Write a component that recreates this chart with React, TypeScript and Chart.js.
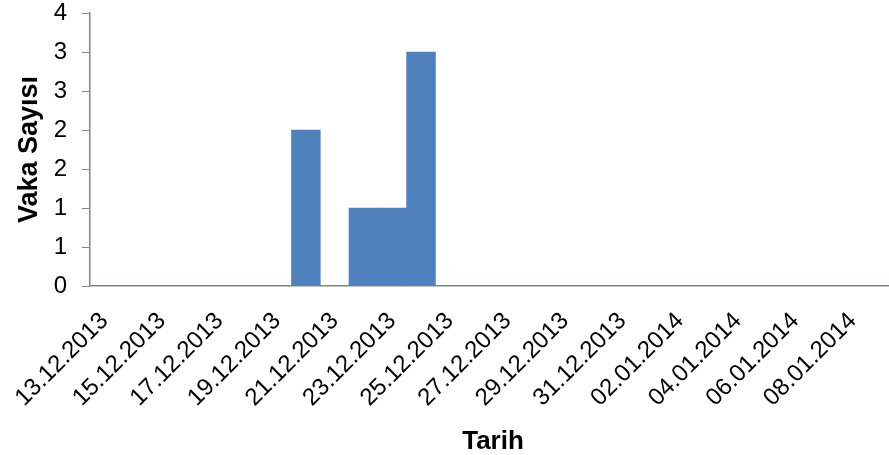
import React, { useEffect, useRef } from "react";
import { Chart, registerables } from "chart.js";

Chart.register(...registerables);

const dates: string[] = [
  "13.12.2013", "14.12.2013", "15.12.2013", "16.12.2013", "17.12.2013", "18.12.2013", "19.12.2013",
  "20.12.2013", "21.12.2013", "22.12.2013", "23.12.2013", "24.12.2013", "25.12.2013", "26.12.2013",
  "27.12.2013", "28.12.2013", "29.12.2013", "30.12.2013", "31.12.2013", "01.01.2014", "02.01.2014",
  "03.01.2014", "04.01.2014", "05.01.2014", "06.01.2014", "07.01.2014", "08.01.2014", "09.01.2014",
];

const caseCounts: number[] = [
  0, 0, 0, 0, 0, 0, 0,
  2, 0, 1, 1, 3, 0, 0,
  0, 0, 0, 0, 0, 0, 0,
  0, 0, 0, 0, 0, 0, 0,
];

const yTickValues: number[] = [0, 0.5, 1, 1.5, 2, 2.5, 3, 3.5];
const yTickLabels: string[] = ["0", "1", "1", "2", "2", "3", "3", "4"];

const yTitle = "Vaka Sayısı";
const xTitle = "Tarih";

const FONT = "'Liberation Sans', Arial, sans-serif";

export default function App() {
  const canvasRef = useRef<HTMLCanvasElement | null>(null);

  useEffect(() => {
    if (!canvasRef.current) return;
    const chart = new Chart(canvasRef.current, {
      type: "bar",
      data: {
        labels: dates,
        datasets: [
          {
            data: caseCounts,
            backgroundColor: "#4F81BD",
            borderWidth: 0,
            barPercentage: 1,
            categoryPercentage: 1,
          },
        ],
      },
      options: {
        animation: false,
        responsive: true,
        maintainAspectRatio: false,
        layout: { padding: { top: 1, left: 0, right: 0, bottom: 0 } },
        plugins: {
          legend: { display: false },
          tooltip: { enabled: false },
        },
        scales: {
          x: {
            type: "category",
            offset: true,
            grid: { display: true, drawOnChartArea: false, drawTicks: false, color: "#868686" },
            border: { display: true, color: "#868686", width: 1.5 },
            ticks: {
              autoSkip: false,
              minRotation: 45,
              maxRotation: 45,
              padding: 21,
              color: "#000000",
              font: { family: FONT, size: 24 },
              callback: (_v: any, i: number) => (i % 2 === 0 ? dates[i] : null),
            },
            title: {
              display: true,
              text: xTitle,
              color: "#000000",
              font: { family: FONT, size: 26, weight: "bold", lineHeight: 1 },
              padding: { top: 0, bottom: 0 },
            },
            afterFit: (scale: any) => {
              scale.height = 169;
              scale.paddingLeft = 0;
              scale.paddingRight = 0;
            },
          },
          y: {
            min: 0,
            max: 3.5,
            afterBuildTicks: (scale: any) => {
              scale.ticks = yTickValues.map((v) => ({ value: v }));
            },
            grid: { display: true, drawOnChartArea: false, drawTicks: true, tickLength: 8, color: "#868686" },
            border: { display: true, color: "#868686", width: 1.5 },
            ticks: {
              padding: 15,
              color: "#000000",
              font: { family: FONT, size: 24 },
              callback: (_v: any, i: number) => yTickLabels[i],
            },
            title: {
              display: true,
              text: yTitle,
              color: "#000000",
              font: { family: FONT, size: 27, weight: "bold", lineHeight: 1 },
              padding: { top: 16, bottom: 0 },
            },
            afterFit: (scale: any) => {
              scale.width = 90;
              scale.paddingTop = 13;
              scale.paddingBottom = 0;
            },
          },
        },
      },
    });
    return () => chart.destroy();
  }, []);

  return (
    <div style={{ position: "fixed", left: 0, top: 0, width: 889, height: 455, overflow: "hidden", background: "#fff" }}>
      <div style={{ position: "relative", width: 896, height: 455 }}>
        <canvas ref={canvasRef} />
      </div>
    </div>
  );
}
